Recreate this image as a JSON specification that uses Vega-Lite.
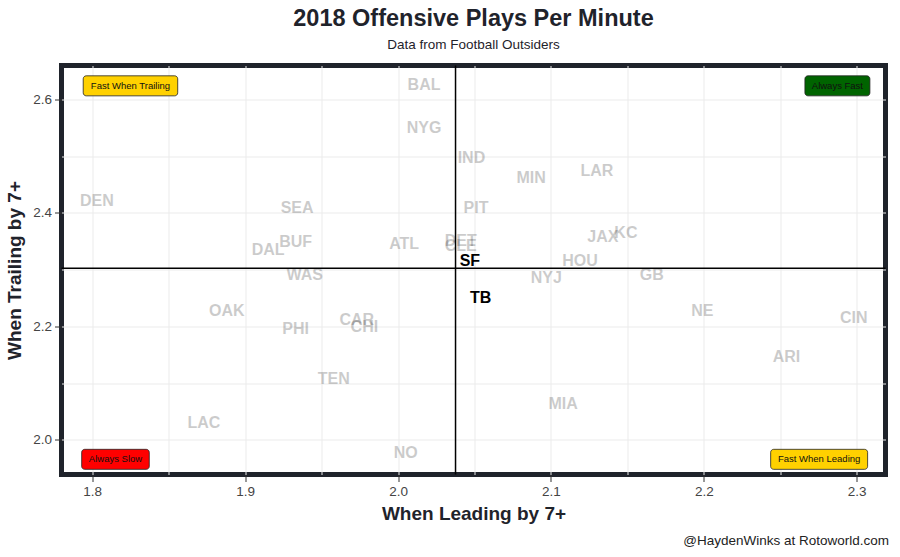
{
  "$schema": "https://vega.github.io/schema/vega-lite/v6.json",
  "width": 824,
  "height": 409,
  "autosize": {"type": "none"},
  "padding": {"left": 61.5, "top": 65.5, "right": 14.5, "bottom": 82.5},
  "background": "white",
  "title": {
    "text": "2018 Offensive Plays Per Minute",
    "subtitle": "Data from Football Outsiders",
    "anchor": "middle",
    "frame": "group",
    "font": "Liberation Sans",
    "fontSize": 23.5,
    "fontWeight": "bold",
    "color": "#1f232b",
    "subtitleFont": "Liberation Sans",
    "subtitleFontSize": 13.5,
    "subtitleColor": "#1f232b",
    "subtitlePadding": 8,
    "offset": 13
  },
  "config": {
    "view": {"stroke": "#1f232b", "strokeWidth": 5},
    "axis": {
      "domain": false,
      "grid": true,
      "gridColor": "#ebebeb",
      "gridWidth": 1,
      "labelFont": "Liberation Sans",
      "labelFontSize": 13.5,
      "labelColor": "#444444",
      "tickColor": "#333333",
      "tickSize": 7,
      "titleFont": "Liberation Sans",
      "titleFontSize": 19,
      "titleFontWeight": "bold",
      "titleColor": "#1f232b"
    }
  },
  "datasets": {
    "teams": [
      {"team": "BAL", "leading": 2.017, "trailing": 2.626},
      {"team": "NYG", "leading": 2.017, "trailing": 2.549},
      {"team": "IND", "leading": 2.048, "trailing": 2.497},
      {"team": "MIN", "leading": 2.087, "trailing": 2.462},
      {"team": "LAR", "leading": 2.130, "trailing": 2.474},
      {"team": "DEN", "leading": 1.803, "trailing": 2.422},
      {"team": "SEA", "leading": 1.934, "trailing": 2.408},
      {"team": "PIT", "leading": 2.051, "trailing": 2.408},
      {"team": "JAX", "leading": 2.134, "trailing": 2.357},
      {"team": "KC", "leading": 2.149, "trailing": 2.364},
      {"team": "DET", "leading": 2.041, "trailing": 2.350},
      {"team": "CLE", "leading": 2.041, "trailing": 2.341},
      {"team": "ATL", "leading": 2.004, "trailing": 2.345},
      {"team": "BUF", "leading": 1.933, "trailing": 2.348},
      {"team": "DAL", "leading": 1.915, "trailing": 2.334},
      {"team": "SF", "leading": 2.047, "trailing": 2.315},
      {"team": "HOU", "leading": 2.119, "trailing": 2.315},
      {"team": "NYJ", "leading": 2.097, "trailing": 2.285},
      {"team": "GB", "leading": 2.166, "trailing": 2.290},
      {"team": "WAS", "leading": 1.939, "trailing": 2.290},
      {"team": "TB", "leading": 2.054, "trailing": 2.250},
      {"team": "OAK", "leading": 1.888, "trailing": 2.227},
      {"team": "CAR", "leading": 1.973, "trailing": 2.212},
      {"team": "CHI", "leading": 1.978, "trailing": 2.199},
      {"team": "PHI", "leading": 1.933, "trailing": 2.196},
      {"team": "NE", "leading": 2.199, "trailing": 2.227},
      {"team": "CIN", "leading": 2.298, "trailing": 2.215},
      {"team": "ARI", "leading": 2.254, "trailing": 2.147},
      {"team": "TEN", "leading": 1.958, "trailing": 2.107},
      {"team": "MIA", "leading": 2.108, "trailing": 2.063},
      {"team": "LAC", "leading": 1.873, "trailing": 2.030},
      {"team": "NO", "leading": 2.005, "trailing": 1.977}
    ],
    "boxes": [
      {"label": "Fast When Trailing", "x1": 1.7941, "x2": 1.8559, "y1": 2.6065, "y2": 2.6418, "cx": 1.825, "cy": 2.6241},
      {"label": "Always Fast", "x1": 2.2661, "x2": 2.3086, "y1": 2.6065, "y2": 2.6418, "cx": 2.28735, "cy": 2.6241},
      {"label": "Always Slow", "x1": 1.7931, "x2": 1.8373, "y1": 1.9481, "y2": 1.9834, "cx": 1.8152, "cy": 1.96575},
      {"label": "Fast When Leading", "x1": 2.2437, "x2": 2.3071, "y1": 1.9481, "y2": 1.9834, "cx": 2.2754, "cy": 1.96575}
    ],
    "ref": [{"leading": 2.0376, "trailing": 2.3026}]
  },
  "resolve": {"axis": {"x": "independent"}},
  "layer": [
    {
      "data": {"name": "teams"},
      "mark": {"type": "text", "font": "Liberation Sans", "fontWeight": "bold", "fontSize": 16, "align": "center", "baseline": "middle"},
      "encoding": {
        "x": {
          "field": "leading", "type": "quantitative",
          "scale": {"domain": [1.7799, 2.3188], "nice": false, "zero": false},
          "axis": {
            "title": "When Leading by 7+",
            "orient": "bottom",
            "values": [1.8, 1.85, 1.9, 1.95, 2.0, 2.05, 2.1, 2.15, 2.2, 2.25, 2.3],
            "labelExpr": "round(datum.value*20)%2==0 ? format(datum.value, '.1f') : ''",
            "tickOpacity": {"condition": {"test": "round(datum.value*20)%2==1", "value": 0}, "value": 1},
            "labelPadding": 3,
            "titlePadding": 6
          }
        },
        "y": {
          "field": "trailing", "type": "quantitative",
          "scale": {"domain": [1.939, 2.66], "nice": false, "zero": false},
          "axis": {
            "title": "When Trailing by 7+",
            "values": [2.0, 2.1, 2.2, 2.3, 2.4, 2.5, 2.6],
            "labelExpr": "round(datum.value*10)%2==0 ? format(datum.value, '.1f') : ''",
            "tickOpacity": {"condition": {"test": "round(datum.value*10)%2==1", "value": 0}, "value": 1},
            "labelPadding": 3,
            "titlePadding": 8
          }
        },
        "text": {"field": "team"},
        "color": {"value": "#000000"},
        "opacity": {"condition": {"test": "datum.team==='SF' || datum.team==='TB'", "value": 1}, "value": 0.2}
      }
    },
    {
      "data": {"name": "boxes"},
      "mark": {"type": "rect", "cornerRadius": 3, "stroke": "#222222", "strokeWidth": 0.8},
      "encoding": {
        "x": {"field": "x1", "type": "quantitative", "axis": null},
        "x2": {"field": "x2"},
        "y": {"field": "y1", "type": "quantitative"},
        "y2": {"field": "y2"},
        "fill": {
          "field": "label", "type": "nominal", "legend": null,
          "scale": {"domain": ["Fast When Trailing", "Always Fast", "Always Slow", "Fast When Leading"], "range": ["#ffd100", "#006400", "#ff0000", "#ffd100"]}
        }
      }
    },
    {
      "data": {"name": "boxes"},
      "mark": {"type": "text", "font": "Liberation Sans", "fontSize": 9.5, "align": "center", "baseline": "middle", "color": "#111111"},
      "encoding": {
        "x": {"field": "cx", "type": "quantitative", "axis": null},
        "y": {"field": "cy", "type": "quantitative"},
        "text": {"field": "label"}
      }
    },
    {
      "data": {"name": "ref"},
      "mark": {"type": "rule", "color": "#000000", "strokeWidth": 1.5},
      "encoding": {"y": {"field": "trailing", "type": "quantitative"}}
    },
    {
      "data": {"name": "ref"},
      "mark": {"type": "rule", "color": "#000000", "strokeWidth": 1.5},
      "encoding": {
        "x": {
          "field": "leading", "type": "quantitative",
          "axis": {
            "orient": "bottom",
            "title": "@HaydenWinks at Rotoworld.com",
            "titleFontWeight": "normal",
            "titleFontSize": 13.5,
            "titleColor": "#222222",
            "titleAlign": "right",
            "titleBaseline": "alphabetic",
            "titleX": 827,
            "titleY": 70,
            "grid": false,
            "labels": false,
            "ticks": false,
            "domain": false
          }
        }
      }
    }
  ]
}
